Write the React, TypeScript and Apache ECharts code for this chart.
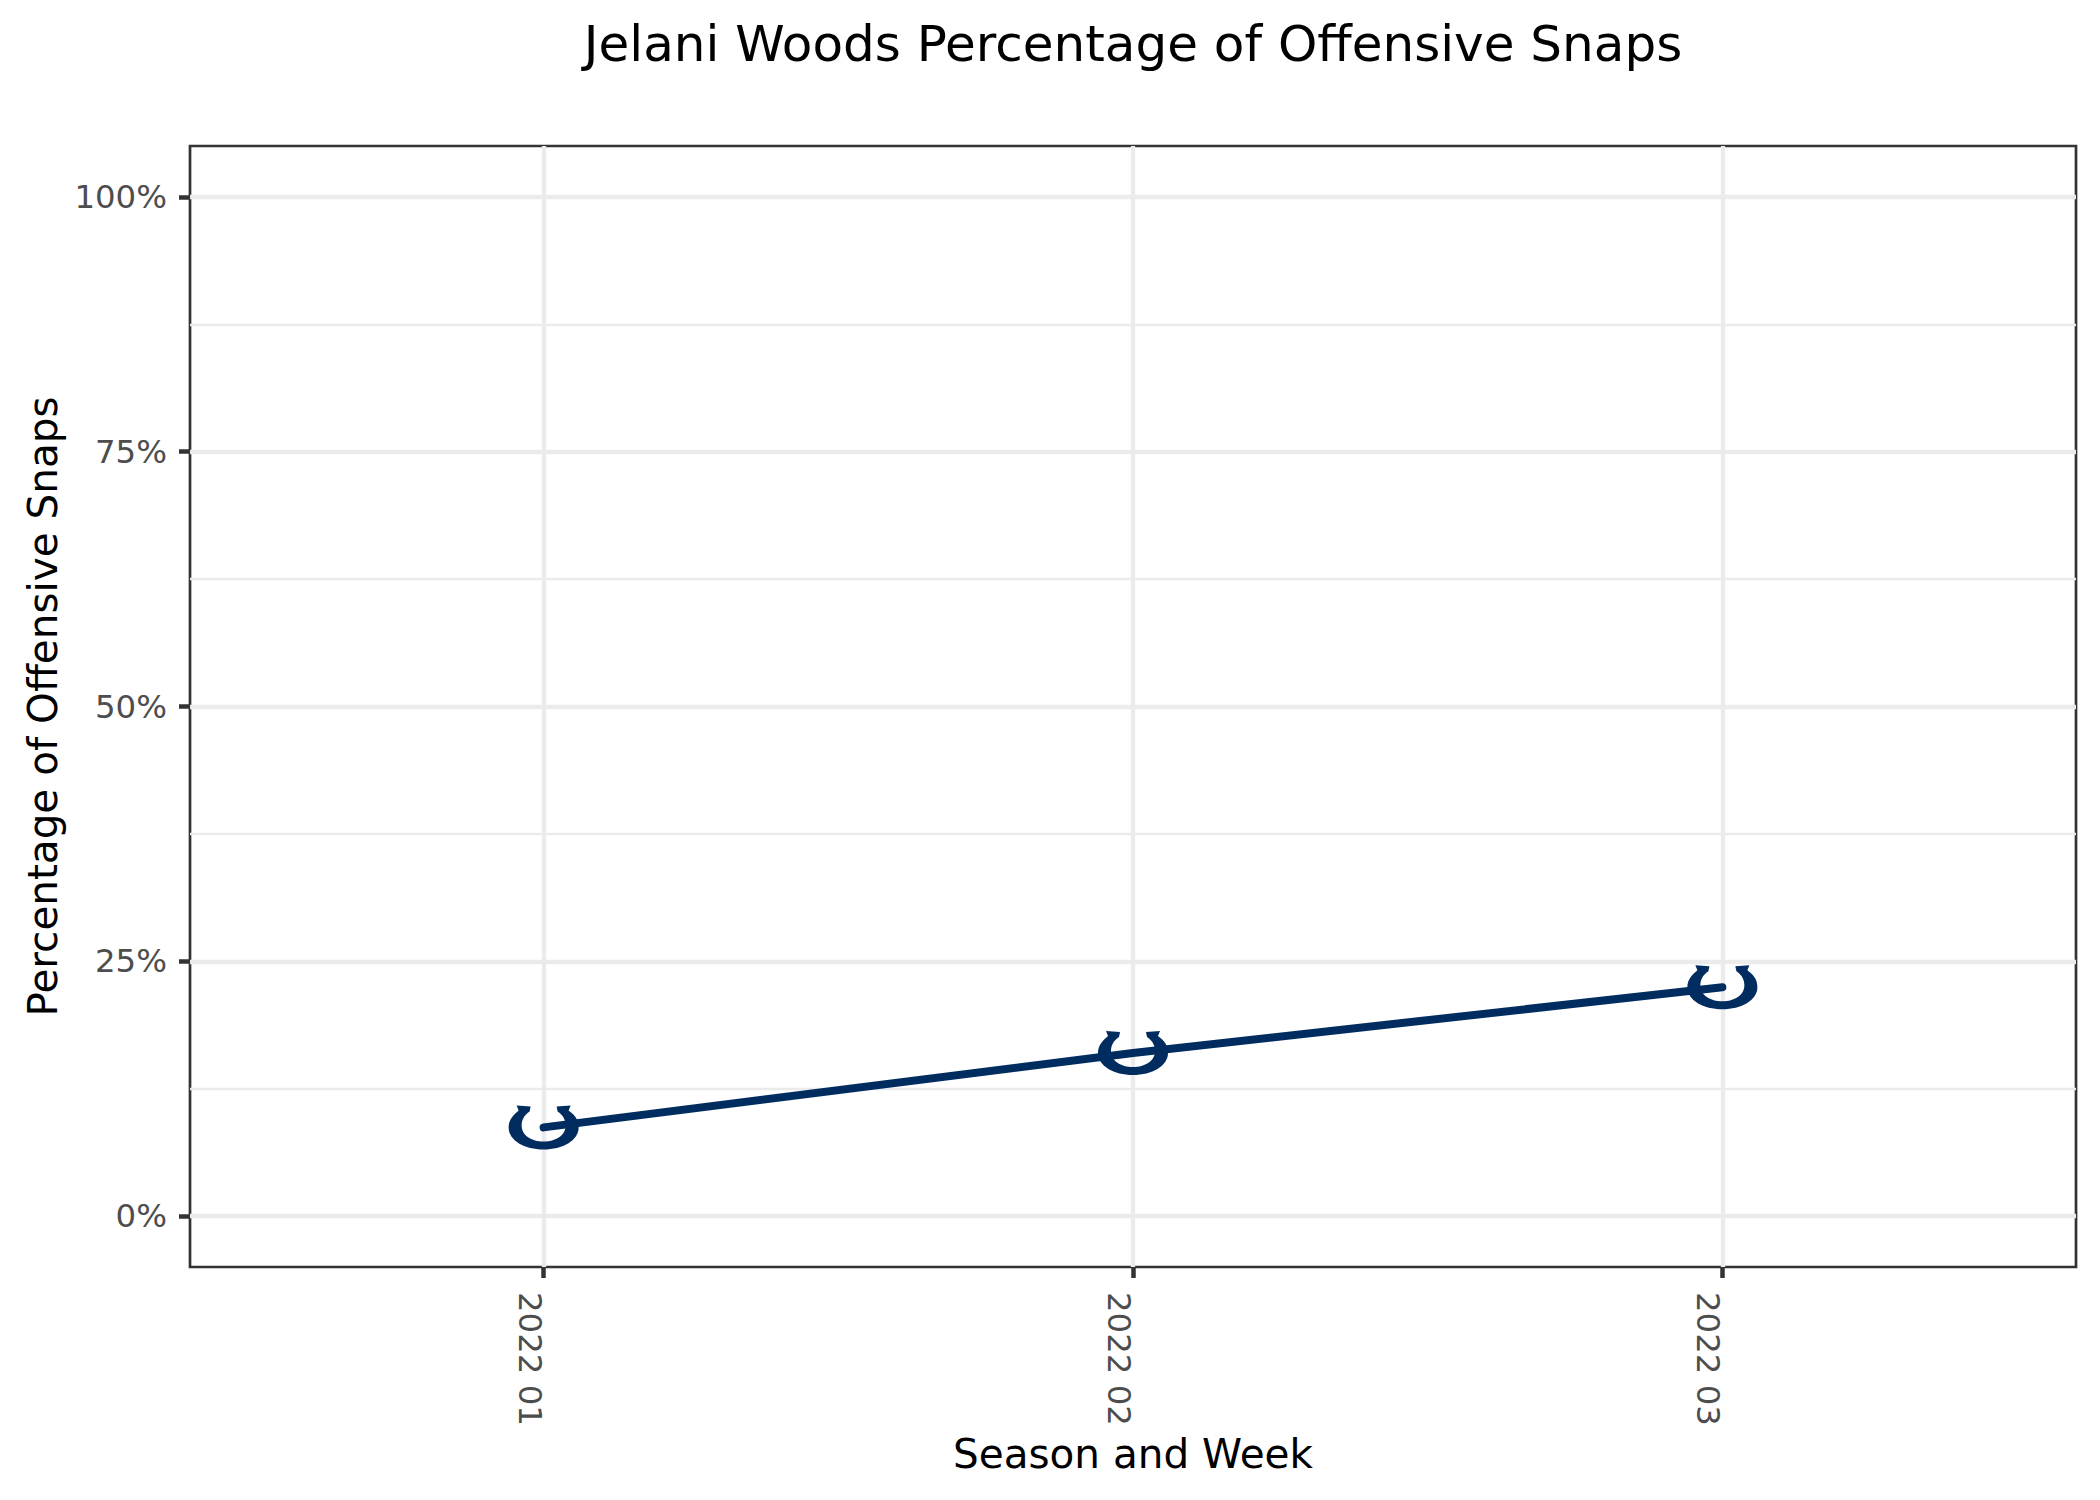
import React, { useEffect, useRef } from "react";
import * as echarts from "echarts";

const weeks = ["2022 01", "2022 02", "2022 03"];
const snapPct = [0.087, 0.16, 0.2245];
const majorTicks = [0, 0.25, 0.5, 0.75, 1];
const minorTicks = [0.125, 0.375, 0.625, 0.875];
const xPositions = [1, 2, 3];

const HORSESHOE =
  "path://M 8 0 L 22 1 L 21 6 C 15 10 13 15 13 20 C 13 30 23 36 35 36 C 47 36 57 30 57 20 C 57 15 55 10 49 6 L 48 1 L 62 0 L 60 5 C 67 10 70 15 70 22 C 70 35 54 44 35 44 C 16 44 0 35 0 22 C 0 15 4 10 10 5 Z";

const FONT = "DejaVu Sans";

export default function App() {
  const ref = useRef<HTMLDivElement>(null);
  useEffect(() => {
    if (!ref.current) return;
    const chart = echarts.init(ref.current, undefined, { renderer: "svg" });
    chart.setOption({
      animation: false,
      backgroundColor: "#ffffff",
      title: {
        text: "Jelani Woods Percentage of Offensive Snaps",
        left: 1128,
        textAlign: "center",
        top: 14,
        textStyle: { fontFamily: FONT, fontSize: 50, fontWeight: "normal", color: "#000000" },
      },
      grid: {
        left: 190,
        right: 24,
        top: 146,
        bottom: 233,
        show: true,
        borderColor: "#333333",
        borderWidth: 2.7,
        backgroundColor: "transparent",
        containLabel: false,
      },
      xAxis: {
        type: "value",
        min: 0.4,
        max: 3.6,
        name: "Season and Week",
        nameLocation: "middle",
        nameGap: 160,
        nameTextStyle: { fontFamily: FONT, fontSize: 40.5, color: "#000000" },
        axisLine: { show: false, onZero: false },
        axisTick: {
          show: true,
          length: 11,
          customValues: xPositions,
          lineStyle: { color: "#333333", width: 4.5 },
        },
        axisLabel: {
          customValues: xPositions,
          rotate: -90,
          margin: 25,
          verticalAlign: "top",
          lineHeight: 28,
          fontFamily: FONT,
          fontSize: 32.4,
          color: "#4D4D4D",
          formatter: (v: number) => weeks[Math.round(v) - 1] ?? "",
        },
        splitLine: { show: true, lineStyle: { color: "#EBEBEB", width: 4.3 } },
      },
      yAxis: [
        {
          type: "value",
          min: -0.05,
          max: 1.05,
          name: "Percentage of Offensive Snaps",
          nameLocation: "middle",
          nameGap: 125,
          nameTextStyle: { fontFamily: FONT, fontSize: 40.5, color: "#000000" },
          axisLine: { show: false, onZero: false },
          axisTick: {
            show: true,
            length: 11,
            customValues: majorTicks,
            lineStyle: { color: "#333333", width: 4.5 },
          },
          axisLabel: {
            customValues: majorTicks,
            margin: 23,
            fontFamily: FONT,
            fontSize: 32.4,
            color: "#4D4D4D",
            formatter: (v: number) => `${Math.round(v * 100)}%`,
          },
          splitLine: { show: true, lineStyle: { color: "#EBEBEB", width: 4.3 } },
        },
        {
          type: "value",
          min: -0.05,
          max: 1.05,
          position: "left",
          axisLine: { show: false, onZero: false },
          axisTick: { show: false, customValues: minorTicks },
          axisLabel: { show: false, customValues: minorTicks },
          splitLine: { show: true, lineStyle: { color: "#EBEBEB", width: 2.3 } },
        },
      ],
      series: [
        {
          type: "line",
          xAxisIndex: 0,
          yAxisIndex: 0,
          data: weeks.map((w, i) => [xPositions[i], snapPct[i]]),
          lineStyle: { color: "#002C5F", width: 8, cap: "round" },
          itemStyle: { color: "#002C5F" },
          symbol: HORSESHOE,
          symbolSize: [70, 44],
          symbolKeepAspect: false,
          showSymbol: true,
          z: 5,
        },
      ],
    });
    return () => chart.dispose();
  }, []);
  return (
    <div
      ref={ref}
      style={{ position: "fixed", left: 0, top: 0, width: 2100, height: 1500 }}
    />
  );
}
